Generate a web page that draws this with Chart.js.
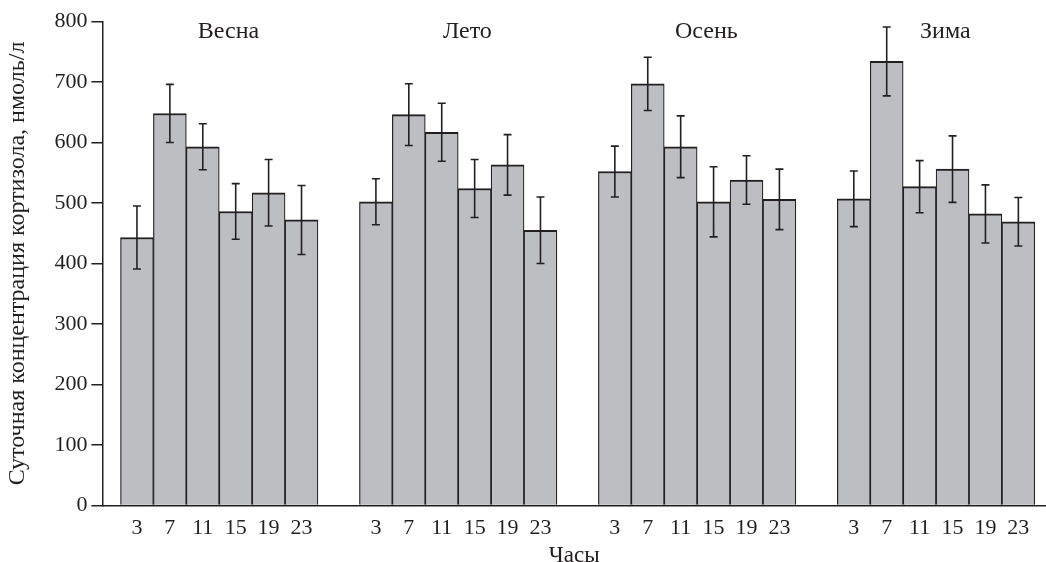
<!DOCTYPE html>
<html><head><meta charset="utf-8">
<script src="https://cdn.jsdelivr.net/npm/chart.js@4/dist/chart.umd.min.js"></script>
<style>html,body{margin:0;padding:0;background:#fff}#wrap{width:1046px;height:562px;position:relative}</style>
</head><body><div id="wrap"><canvas id="c"></canvas></div>
<script>
// ---- data ----
const seasons = ['Весна', 'Лето', 'Осень', 'Зима'];
const hours = ['3', '7', '11', '15', '19', '23'];
const springMean = [443, 648, 593, 486, 517, 472];
const springErr  = [52, 48, 38, 46, 55, 57];
const summerMean = [502, 646, 617, 524, 563, 455];
const summerErr  = [38, 51, 48, 48, 50, 55];
const autumnMean = [552, 697, 593, 502, 538, 506];
const autumnErr  = [42, 44, 51, 58, 40, 50];
const winterMean = [507, 734, 527, 556, 482, 469];
const winterErr  = [46, 57, 43, 55, 48, 40];
const yTicks = [0, 100, 200, 300, 400, 500, 600, 700, 800];

const means = [springMean, summerMean, autumnMean, winterMean];
const errs = [springErr, summerErr, autumnErr, winterErr];

// layout of groups on a linear x scale (one unit = one bar)
const STEP = 7.26;
const pos = (g, i) => g * STEP + i;
const xPositions = [];
const barData = [];
const errData = [];
means.forEach((arr, g) => arr.forEach((v, i) => {
  const x = pos(g, i);
  xPositions.push(x);
  barData.push({x: x, y: v});
  const e = errs[g][i];
  errData.push({x: x, y: v - e}, {x: x, y: v + e}, {x: x, y: null});
}));

const INK = '#231f20';
Chart.defaults.font.family = '"Liberation Serif", "Times New Roman", serif';
Chart.defaults.color = INK;

const seasonTitles = {
  id: 'seasonTitles',
  afterDatasetsDraw(chart) {
    const {ctx, chartArea} = chart;
    const x = chart.scales.x;
    ctx.save();
    ctx.font = '24px "Liberation Serif", serif';
    ctx.fillStyle = INK;
    ctx.textAlign = 'center';
    ctx.textBaseline = 'middle';
    seasons.forEach((s, g) => {
      ctx.fillText(s, x.getPixelForValue(pos(g, 2.5) + 0.28), chartArea.top + 10);
    });
    ctx.restore();
  }
};

new Chart(document.getElementById('c'), {
  data: {
    datasets: [
      {
        type: 'line',
        data: errData,
        order: 1,
        borderColor: INK,
        borderWidth: 1.6,
        spanGaps: false,
        pointStyle: 'line',
        pointRadius: 4,
        pointBorderWidth: 1.6,
        pointBorderColor: INK,
        pointHoverRadius: 4
      },
      {
        type: 'bar',
        data: barData,
        order: 2,
        backgroundColor: '#bdbec2',
        borderColor: INK,
        borderWidth: {top: 2, left: 1.2, right: 1.2, bottom: 0},
        borderSkipped: false,
        barPercentage: 1,
        categoryPercentage: 1
      }
    ]
  },
  options: {
    responsive: true,
    maintainAspectRatio: false,
    animation: false,
    events: [],
    layout: {autoPadding: false, padding: {top: 21.5, right: 0, bottom: 0, left: 0}},
    plugins: {legend: {display: false}, tooltip: {enabled: false}},
    scales: {
      x: {
        type: 'linear',
        offset: false,
        min: -1.05,
        max: pos(3, 5) + 0.84,
        afterBuildTicks: (axis) => { axis.ticks = xPositions.map(v => ({value: v})); },
        ticks: {
          autoSkip: false,
          maxRotation: 0,
          padding: 0,
          font: {size: 22, lineHeight: 1},
          callback: (v, i) => hours[i % hours.length]
        },
        grid: {display: false, drawTicks: true, tickLength: 12},
        border: {color: INK, width: 1.5},
        title: {display: true, text: 'Часы', font: {size: 23, lineHeight: '12px'}, padding: {top: 10.5, bottom: 0}}
      },
      y: {
        min: 0,
        max: 800,
        afterBuildTicks: (axis) => { axis.ticks = yTicks.map(v => ({value: v})); },
        ticks: {padding: 4, font: {size: 22, lineHeight: 1}},
        grid: {drawOnChartArea: false, drawTicks: true, tickLength: 11, color: INK, lineWidth: 1.5},
        border: {color: INK, width: 1.5},
        title: {display: true, text: 'Суточная концентрация кортизола, нмоль/л', font: {size: 24, lineHeight: 1.2}, padding: {top: 3.6, bottom: 18}}
      }
    }
  },
  plugins: [seasonTitles]
});
</script>
</body></html>
